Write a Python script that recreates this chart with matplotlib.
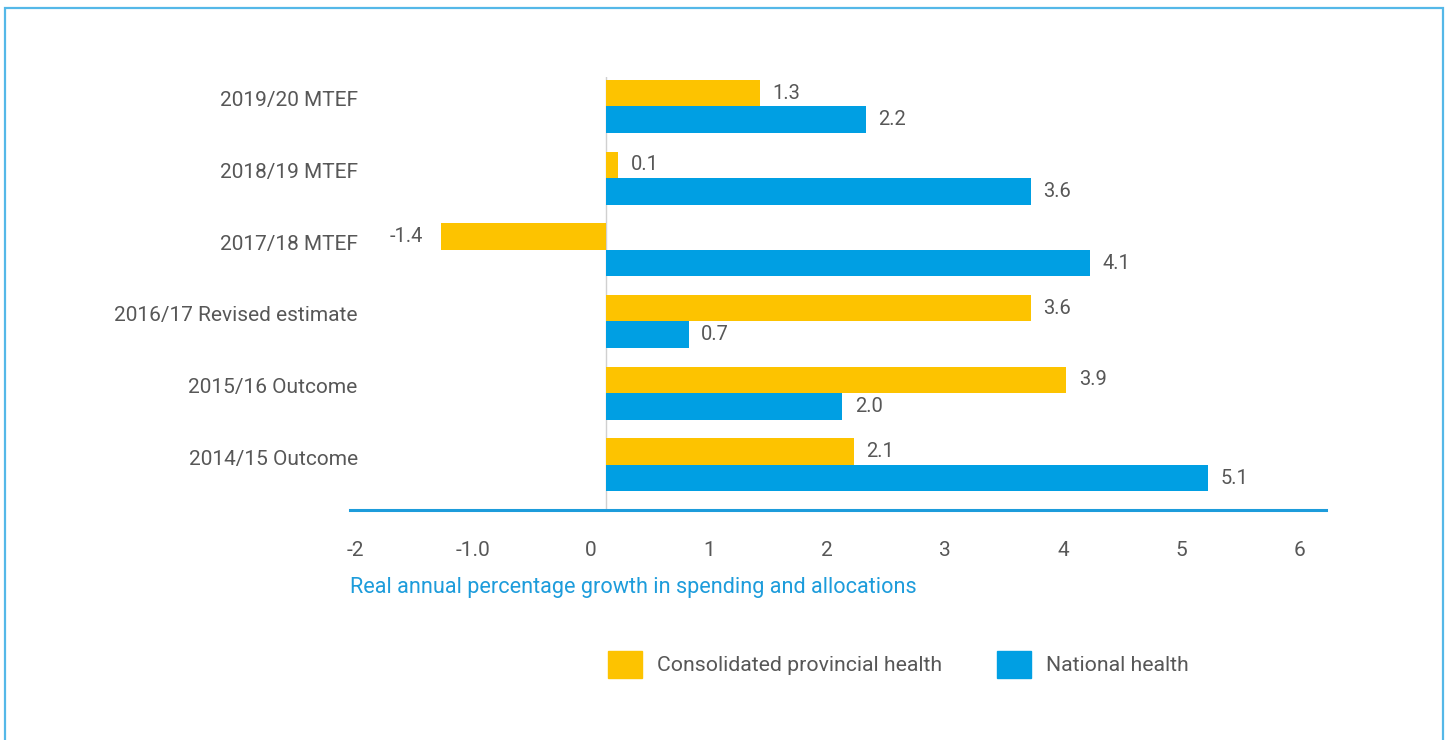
import numpy as np
import matplotlib
matplotlib.use("Agg")
import matplotlib.pyplot as plt
import matplotlib.transforms as mtransforms
from matplotlib.patches import Rectangle, Patch

plt.rcParams['font.family'] = ['Roboto', 'DejaVu Sans']

# ========================================
# DATA
# ========================================

categories = ['2014/15 Outcome', '2015/16 Outcome', '2016/17 Revised estimate',
              '2017/18 MTEF', '2018/19 MTEF', '2019/20 MTEF']
provincial = [2.1, 3.9, 3.6, -1.4, 0.1, 1.3]
national = [5.1, 2.0, 0.7, 4.1, 3.6, 2.2]
tick_values = [-2, -1, 0, 1, 2, 3, 4, 5, 6]
tick_labels = ['-2', '-1.0', '0', '1', '2', '3', '4', '5', '6']

YELLOW = '#FDC300'
BLUE = '#009FE3'
GREY = '#575757'
LINE_BLUE = '#1D9CDB'

# ========================================
# FIGURE
# ========================================

W, H = 1449, 740
fig = plt.figure(figsize=(W / 100, H / 100), dpi=100)

# light blue frame round the whole chart
fig.patches.append(Rectangle((5 / W, -0.05), 1438 / W, 1.05 - 8 / H,
                             transform=fig.transFigure, fill=False,
                             edgecolor='#55B8E8', linewidth=1.6))

ax = fig.add_axes([350 / W, 1 - 510 / H, 976 / W, 433 / H])

y = np.arange(len(categories))
bar_h = 0.37

ax.barh(y + bar_h / 2, provincial, height=bar_h, color=YELLOW,
        label='Consolidated provincial health')
ax.barh(y - bar_h / 2, national, height=bar_h, color=BLUE,
        label='National health')

# value labels at the bar ends
for series, off in ((provincial, bar_h / 2), (national, -bar_h / 2)):
    for yi, v in zip(y, series):
        if v >= 0:
            ax.annotate(f'{v:.1f}', (v, yi + off), xytext=(9, 0),
                        textcoords='offset points', ha='left', va='center',
                        fontsize=14.5, color=GREY)
        else:
            ax.annotate(f'{v:.1f}', (v, yi + off), xytext=(-13, 0),
                        textcoords='offset points', ha='right', va='center',
                        fontsize=14.5, color=GREY)

ax.axvline(0, color='#D0D0D0', linewidth=1, zorder=0)

ax.set_xlim(-2.17, 6.1)
ax.set_ylim(-0.63, 5.41)

# axes styling
for side in ('top', 'right', 'left'):
    ax.spines[side].set_visible(False)
ax.spines['bottom'].set_color(LINE_BLUE)
ax.spines['bottom'].set_linewidth(2.2)

ax.set_xticks(tick_values)
ax.set_xticklabels(tick_labels, fontsize=15, color=GREY)
ax.tick_params(axis='x', length=0, pad=22)
shift = mtransforms.ScaledTranslation(-15 / 100, 0, fig.dpi_scale_trans)
for lbl in ax.get_xticklabels():
    lbl.set_transform(lbl.get_transform() + shift)

ax.set_yticks([])
for yi, cat in zip(y, categories):
    ax.annotate(cat, (0, yi), xycoords=('axes fraction', 'data'),
                xytext=(5.5, 4), textcoords='offset points',
                ha='right', va='center', fontsize=15, color=GREY)

fig.text(350 / W, 1 - 587 / H, 'Real annual percentage growth in spending and allocations',
         ha='left', va='center', fontsize=15.6, color=LINE_BLUE)

handles = [Patch(color=YELLOW, label='Consolidated provincial health'),
           Patch(color=BLUE, label='National health')]
fig.legend(handles=handles, loc='center left',
           bbox_to_anchor=(608 / W, 1 - 664.5 / H), ncol=2, frameon=False,
           fontsize=15.3, handlelength=1.6, handleheight=1.6,
           handletextpad=0.7, columnspacing=2.6, borderpad=0,
           borderaxespad=0, labelcolor=GREY)

fig.savefig('out.png', dpi=100)
